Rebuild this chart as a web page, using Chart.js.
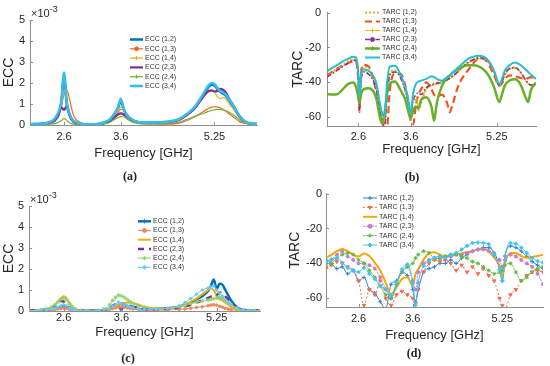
<!DOCTYPE html>
<html><head><meta charset="utf-8">
<script src="https://cdn.jsdelivr.net/npm/chart.js@4.4.1/dist/chart.umd.min.js"></script>
<style>
html,body{margin:0;padding:0;background:#fff;}
body{width:550px;height:366px;position:relative;overflow:hidden;}
.pane{position:absolute;}
.pane canvas{display:block;}
.plab{position:absolute;font:bold 12px "Liberation Serif","DejaVu Serif",serif;color:#222;transform:translate(-50%,-50%);white-space:nowrap;}
</style></head>
<body>
<div class="pane" style="left:0;top:0"><canvas id="cA" width="275" height="165"></canvas></div>
<div class="pane" style="left:275px;top:0"><canvas id="cB" width="275" height="165"></canvas></div>
<div class="pane" style="left:0;top:183px"><canvas id="cC" width="275" height="165"></canvas></div>
<div class="pane" style="left:275px;top:183px"><canvas id="cD" width="275" height="165"></canvas></div>
<div class="plab" style="left:130px;top:176px">(a)</div>
<div class="plab" style="left:412px;top:177px">(b)</div>
<div class="plab" style="left:128px;top:358px">(c)</div>
<div class="plab" style="left:414px;top:353px">(d)</div>
<script>
// ---------- tick labels / categories ----------
const freqTicks = [2.6, 3.6, 5.25];
const eccTicks = [0, 1, 2, 3, 4, 5];
const tarcTicks = [-60, -40, -20, 0];
const pairs = ['(1,2)', '(1,3)', '(1,4)', '(2,3)', '(2,4)', '(3,4)'];

// ---------- ECC data (x10^-3), panels (a) and (c) ----------
const freqEcc = [2.0,2.2,2.3,2.4,2.45,2.5,2.55,2.6,2.65,2.7,2.75,2.8,2.9,3.0,3.2,3.3,3.4,3.45,3.5,3.55,3.6,3.65,3.7,3.75,3.8,3.9,4.0,4.2,4.4,4.6,4.7,4.8,4.9,5.0,5.1,5.15,5.2,5.25,5.3,5.35,5.4,5.45,5.5,5.6,5.7,5.8,5.9,6.0];

const eccA12 = [0.04,0.06,0.1,0.2,0.33,0.55,1.0,2.3,0.95,0.45,0.22,0.13,0.05,0.03,0.05,0.11,0.23,0.37,0.55,0.8,1.15,0.75,0.47,0.33,0.23,0.14,0.11,0.11,0.14,0.24,0.38,0.57,0.8,1.2,1.62,1.82,1.92,1.88,1.72,1.58,1.5,1.4,1.2,0.8,0.38,0.14,0.07,0.05];
const eccA13 = [0.03,0.05,0.08,0.15,0.28,0.5,0.9,1.45,1.65,1.2,0.6,0.3,0.1,0.04,0.03,0.08,0.18,0.3,0.45,0.6,0.75,0.7,0.55,0.4,0.3,0.15,0.08,0.05,0.04,0.08,0.15,0.25,0.4,0.55,0.72,0.8,0.85,0.87,0.86,0.82,0.75,0.65,0.55,0.35,0.15,0.07,0.04,0.03];
const eccA14 = [0.03,0.05,0.09,0.18,0.3,0.55,1.0,1.6,1.2,0.6,0.3,0.15,0.05,0.03,0.04,0.1,0.22,0.35,0.5,0.7,0.85,0.7,0.5,0.35,0.25,0.14,0.1,0.1,0.13,0.22,0.35,0.55,0.8,1.15,1.5,1.6,1.62,1.55,1.35,1.25,1.3,1.25,1.05,0.7,0.32,0.12,0.06,0.04];
const eccA23 = [0.03,0.05,0.08,0.14,0.25,0.45,0.85,0.72,0.9,0.45,0.2,0.1,0.04,0.03,0.04,0.08,0.17,0.28,0.4,0.5,0.55,0.5,0.4,0.3,0.2,0.12,0.09,0.1,0.13,0.22,0.35,0.55,0.8,1.15,1.5,1.62,1.65,1.6,1.62,1.72,1.68,1.55,1.3,0.85,0.38,0.13,0.06,0.04];
const eccA24 = [0.01,0.02,0.03,0.05,0.08,0.13,0.2,0.3,0.22,0.1,0.05,0.03,0.01,0.01,0.02,0.05,0.12,0.2,0.28,0.35,0.4,0.38,0.3,0.22,0.15,0.08,0.05,0.05,0.06,0.12,0.2,0.3,0.4,0.5,0.6,0.65,0.7,0.72,0.74,0.74,0.72,0.68,0.62,0.45,0.22,0.08,0.03,0.02];
const eccA34 = [0.04,0.06,0.1,0.2,0.35,0.6,1.1,2.5,1.0,0.5,0.25,0.15,0.06,0.03,0.05,0.12,0.25,0.4,0.6,0.85,1.25,0.8,0.5,0.35,0.25,0.15,0.12,0.12,0.15,0.25,0.4,0.6,0.85,1.25,1.7,1.9,2.0,1.95,1.78,1.62,1.55,1.45,1.25,0.85,0.4,0.15,0.08,0.05];

const eccC12 = [0.02,0.04,0.06,0.1,0.13,0.17,0.2,0.25,0.2,0.13,0.07,0.04,0.02,0.01,0.02,0.05,0.1,0.2,0.3,0.25,0.05,0.3,0.2,0.25,0.15,0.1,0.08,0.1,0.13,0.2,0.3,0.4,0.55,0.7,0.95,1.2,1.5,1.05,1.3,1.25,1.0,0.75,0.5,0.18,0.06,0.03,0.02,0.02];
const eccC13 = [0.01,0.02,0.03,0.05,0.07,0.1,0.12,0.15,0.12,0.08,0.05,0.03,0.01,0.01,0.02,0.04,0.08,0.12,0.15,0.18,0.2,0.18,0.15,0.12,0.1,0.07,0.05,0.04,0.05,0.07,0.1,0.13,0.17,0.2,0.25,0.28,0.3,0.28,0.22,0.18,0.13,0.09,0.06,0.03,0.02,0.01,0.01,0.01];
const eccC14 = [0.02,0.05,0.1,0.2,0.3,0.45,0.6,0.7,0.6,0.4,0.2,0.1,0.03,0.01,0.02,0.05,0.12,0.2,0.25,0.3,0.35,0.38,0.4,0.4,0.38,0.3,0.2,0.12,0.12,0.2,0.3,0.45,0.6,0.8,1.0,1.1,1.0,0.7,0.55,0.5,0.4,0.3,0.2,0.08,0.03,0.02,0.02,0.02];
const eccC23 = [0.02,0.04,0.08,0.15,0.25,0.38,0.48,0.45,0.3,0.18,0.1,0.05,0.02,0.01,0.02,0.06,0.15,0.25,0.33,0.38,0.35,0.3,0.25,0.22,0.2,0.15,0.1,0.08,0.1,0.15,0.22,0.3,0.4,0.5,0.62,0.68,0.7,0.75,0.88,0.85,0.7,0.55,0.4,0.15,0.05,0.03,0.02,0.02];
const eccC24 = [0.02,0.05,0.1,0.2,0.3,0.42,0.55,0.62,0.55,0.35,0.2,0.1,0.03,0.01,0.03,0.1,0.3,0.5,0.65,0.75,0.72,0.65,0.55,0.45,0.35,0.25,0.18,0.12,0.12,0.18,0.25,0.35,0.42,0.48,0.52,0.55,0.58,0.62,0.65,0.6,0.5,0.4,0.3,0.12,0.04,0.02,0.02,0.02];
const eccC34 = [0.02,0.04,0.06,0.1,0.13,0.18,0.25,0.3,0.25,0.15,0.08,0.05,0.02,0.01,0.03,0.07,0.15,0.22,0.3,0.42,0.35,0.3,0.25,0.2,0.15,0.1,0.08,0.08,0.12,0.25,0.4,0.6,0.8,1.0,1.1,1.15,1.2,1.0,0.85,0.7,0.55,0.4,0.3,0.15,0.06,0.03,0.02,0.02];

// ---------- TARC data (dB), panel (b) ----------
const freqTarcB = [2.0,2.1,2.2,2.3,2.4,2.5,2.55,2.6,2.62,2.65,2.7,2.8,2.9,2.95,3.0,3.05,3.1,3.15,3.2,3.3,3.4,3.5,3.55,3.6,3.65,3.7,3.75,3.8,3.9,4.0,4.05,4.1,4.2,4.3,4.35,4.4,4.5,4.6,4.7,4.8,4.9,5.0,5.1,5.2,5.3,5.35,5.4,5.5,5.6,5.7,5.8,5.85,5.9,6.0];
const tarcB12 = [-36,-34,-32,-30,-28,-26.8,-26.8,-36,-54,-37,-31,-32,-38,-43,-52,-60,-64,-46,-35,-33,-36,-44,-50,-56,-50,-50,-56,-52,-44,-41,-40.5,-40,-39.5,-38.5,-37.5,-36.5,-34,-31,-28.5,-27,-26,-26,-28.5,-34,-42,-39.5,-35.5,-32,-31.5,-34,-38.5,-40.5,-41.5,-41];
const tarcB13 = [-36,-34,-32,-30.5,-29,-28,-28,-40,-57,-35,-30,-31,-40,-46,-56,-63,-67,-66,-45,-35,-35,-42,-50,-62,-64,-53,-47,-44,-40,-44,-47,-48,-47,-52,-57,-53,-43,-37,-33,-29,-26.5,-26.5,-30,-36,-42,-40.5,-38,-36,-36.5,-37.5,-38,-37.5,-37,-39];
const tarcB14 = [-36.5,-34.5,-32.5,-30.5,-28.5,-27,-27,-37,-55,-39,-33.5,-35,-39.5,-44,-53,-61,-65,-47,-35.5,-33.5,-36.5,-44.5,-50,-57,-49,-48,-55,-50,-44,-42,-41.5,-41,-40.5,-39,-38,-37,-34.5,-31.5,-29,-27.5,-26.5,-26.5,-29,-34.5,-42.5,-40,-36,-32.5,-32,-34.5,-39,-41,-42,-41.5];
const tarcB23 = [-37,-35,-33,-31,-29,-27.5,-27.5,-38,-56,-40,-34,-35.5,-40,-45,-54,-62,-66,-48,-36,-34,-37,-45,-51,-58,-50,-47,-46,-47,-43,-41.5,-41,-40.5,-40,-38.5,-37.5,-36.5,-34,-31,-28.5,-27,-26,-26,-28.5,-34,-42,-39.5,-35.5,-32,-31.5,-34,-38.5,-40.5,-41.5,-41];
const tarcB24 = [-46.7,-47,-46.7,-44,-41,-40,-42,-48.5,-52,-46.7,-44,-43.3,-45.7,-50,-58,-63.5,-58,-46.7,-41,-39.5,-44,-50,-56,-60.7,-56,-53.8,-55,-50,-48.5,-54,-62,-52,-42,-37.3,-36,-34.5,-32.7,-31,-30.2,-30.2,-30.8,-32.7,-36.4,-43,-51.3,-46.7,-42,-38.8,-38.2,-41,-48.5,-51.3,-44.8,-40];
const tarcB34 = [-33.6,-31.7,-30,-28,-26.5,-25.3,-25.5,-35,-48,-36,-32.5,-33.5,-37,-41,-50,-57,-60,-40,-31,-30.5,-35,-43,-49,-58,-46,-41,-39.5,-39,-38,-36.5,-37,-38,-39,-37,-36,-34.5,-31.7,-29,-26.5,-25.3,-24.8,-25.3,-28,-33.5,-41,-38,-33.5,-30,-28.6,-30,-32.7,-34,-35.5,-38];

// ---------- TARC data (dB), panel (d) ----------
const freqTarcD = [2.0,2.1,2.2,2.3,2.4,2.5,2.6,2.7,2.8,2.9,3.0,3.1,3.2,3.3,3.4,3.5,3.6,3.65,3.7,3.8,3.9,4.0,4.1,4.2,4.3,4.4,4.5,4.6,4.7,4.8,4.9,5.0,5.1,5.2,5.25,5.3,5.4,5.5,5.6,5.7,5.8,5.9,6.0];
const tarcD12 = [-38,-40,-43,-42,-46,-44,-50,-48,-55,-57,-62,-66,-52,-50,-45,-47,-55,-62,-55,-45,-43,-42,-40,-40,-38,-40,-37,-35,-33,-32,-31,-31,-34,-42,-50,-36,-30,-31,-33,-36,-39,-41,-43];
const tarcD13 = [-43,-41,-39,-40,-42,-44,-50,-64,-55,-58,-50,-60,-64,-58,-56,-58,-60,-63,-55,-45,-40,-38,-39,-38,-40,-44,-41,-45,-42,-46,-43,-47,-50,-60,-64,-66,-58,-55,-50,-47,-45,-44,-45];
const tarcD14 = [-36.8,-35,-33,-31.7,-33,-35,-36,-34.3,-35.8,-39.6,-44,-51,-57.5,-53.8,-49,-48,-52.8,-46,-43.4,-37.7,-34.3,-33.6,-35,-36.2,-35.8,-35,-34.3,-33.6,-33,-32,-31.7,-33,-36.8,-41.5,-48,-39.6,-34,-34,-35.8,-36.8,-36.4,-35.8,-35];
const tarcD23 = [-40,-38,-35,-33,-36,-38,-40,-40,-41,-43,-48,-55,-60,-52,-45,-42,-50,-55,-45,-40,-38,-37,-37,-36,-36,-35,-35,-34,-33,-32,-32,-33,-35,-38,-42,-38,-35,-36,-38,-40,-42,-46,-52];
const tarcD24 = [-42,-40,-37,-35,-34,-35,-38,-40,-44,-48,-53,-58,-60,-52,-45,-42,-40,-37,-35,-33,-34,-37,-37,-36,-35,-35,-36,-37,-39,-40,-42,-44,-46,-45,-44,-41,-40,-45,-50,-48,-45,-43,-42];
const tarcD34 = [-38.7,-37.7,-37,-39.6,-42.5,-44,-45,-42.5,-46,-49,-52.8,-54.7,-58.5,-51,-43.4,-40.6,-51,-64,-51,-41.5,-38.7,-36.8,-35.8,-36.8,-35,-34,-32,-30,-28.3,-28,-28.3,-29,-35,-43.4,-50,-35.8,-28.3,-28.7,-31,-34,-36.8,-38.7,-39.6];

// ---------- drawing ----------
const FONT = '"Liberation Sans", Arial, Helvetica, sans-serif';
const AX = '#8f8f8f';
const TK = '#262626';

function toPoints(freq, vals) { return freq.map((f, i) => ({ x: f, y: vals[i] })); }

function makeSets(prefix, freq, valueArrays, styles) {
  return valueArrays.map((vals, i) => {
    const st = styles[i];
    return Object.assign({
      label: prefix + ' ' + pairs[i],
      data: toPoints(freq, vals),
      order: valueArrays.length - i,
      fill: false,
      pointRadius: 0,
      pointBorderWidth: 1,
      cubicInterpolationMode: 'monotone'
    }, st, {
      backgroundColor: st.borderColor,
      pointBackgroundColor: st.borderColor,
      pointBorderColor: st.borderColor
    });
  });
}

const decorPlugin = {
  id: 'decor',
  afterDraw(chart, args, o) {
    const ctx = chart.ctx;
    const { left, right, top, bottom } = chart.chartArea;
    const xs = chart.scales.x, ys = chart.scales.y;
    ctx.save();
    ctx.strokeStyle = AX; ctx.lineWidth = 1; ctx.setLineDash([]);
    ctx.beginPath();
    xs.ticks.forEach(t => { const px = Math.round(xs.getPixelForValue(t.value)) + 0.5; ctx.moveTo(px, bottom); ctx.lineTo(px, bottom - 3); });
    ys.ticks.forEach(t => { const py = Math.round(ys.getPixelForValue(t.value)) + 0.5; ctx.moveTo(left, py); ctx.lineTo(left + 3, py); });
    ctx.stroke();
    if (o.exponent) {
      ctx.fillStyle = TK; ctx.textAlign = 'left'; ctx.textBaseline = 'alphabetic';
      ctx.font = '11px ' + FONT;
      const base = '\u00d710';
      ctx.fillText(base, left + 1, top - 3);
      const w = ctx.measureText(base).width;
      ctx.font = '9px ' + FONT;
      ctx.fillText(o.exponent, left + 1 + w, top - 8);
    }
    chart.data.datasets.forEach((ds, i) => {
      const y = o.y + i * o.dy;
      ctx.strokeStyle = ds.borderColor;
      ctx.lineWidth = ds.borderWidth;
      ctx.setLineDash(ds.borderDash || []);
      ctx.beginPath(); ctx.moveTo(o.x, y); ctx.lineTo(o.x + o.len, y); ctx.stroke();
      ctx.setLineDash([]);
      if (ds.mk) {
        ctx.fillStyle = ds.borderColor; ctx.strokeStyle = ds.borderColor; ctx.lineWidth = 1;
        Chart.helpers.drawPoint(ctx, { pointStyle: ds.mk, radius: 2, rotation: ds.pointRotation || 0, borderWidth: 1 }, o.x + o.len / 2, y);
      }
      ctx.fillStyle = '#333'; ctx.font = '7px ' + FONT;
      ctx.textAlign = 'left'; ctx.textBaseline = 'middle';
      ctx.fillText(ds.label, o.x + o.len + 2, y);
    });
    ctx.restore();
  }
};

function makeChart(id, c) {
  return new Chart(document.getElementById(id), {
    type: 'line',
    data: { datasets: c.datasets },
    options: {
      responsive: false, animation: false, devicePixelRatio: 1,
      layout: { padding: { top: c.padTop, right: c.padRight, left: 0, bottom: 0 } },
      plugins: { legend: { display: false }, tooltip: { enabled: false }, decor: c.decor },
      scales: {
        x: {
          type: 'linear', min: 2, max: 6,
          border: { display: true, color: AX, width: 1 },
          grid: { display: false, drawTicks: false },
          afterBuildTicks: s => { s.ticks = freqTicks.map(v => ({ value: v })); },
          afterFit: s => { s.height = c.xH; },
          ticks: { autoSkip: false, maxRotation: 0, padding: c.xTickPad, color: TK, font: { size: 11, family: FONT }, callback: v => String(v) },
          title: { display: true, text: 'Frequency [GHz]', color: TK, font: { size: 13, family: FONT }, padding: { top: 0, bottom: c.xTitlePad } }
        },
        y: {
          type: 'linear', min: c.yMin, max: c.yMax,
          border: { display: true, color: AX, width: 1 },
          grid: { display: false, drawTicks: false },
          afterBuildTicks: s => { s.ticks = c.yTicks.map(v => ({ value: v })); },
          afterFit: s => { s.width = c.yW; },
          ticks: { autoSkip: false, padding: c.yTickPad, color: TK, font: { size: 11, family: FONT }, callback: v => String(v) },
          title: { display: true, text: c.yTitle, color: TK, font: { size: 14, family: FONT }, padding: { top: c.yTitlePad, bottom: 0 } }
        }
      }
    },
    plugins: [decorPlugin]
  });
}

// (a)
makeChart('cA', {
  datasets: makeSets('ECC', freqEcc, [eccA12, eccA13, eccA14, eccA23, eccA24, eccA34], [
    { borderColor: '#0072BD', borderWidth: 2.5 },
    { borderColor: '#EE6A25', borderWidth: 1.2, mk: 'circle' },
    { borderColor: '#EDB120', borderWidth: 1.2, mk: 'cross' },
    { borderColor: '#7E2F8E', borderWidth: 2.2 },
    { borderColor: '#77AC30', borderWidth: 1.2, mk: 'cross' },
    { borderColor: '#33BEEE', borderWidth: 2.5, mk: 'crossRot' }
  ]),
  padTop: 20, padRight: 18, xH: 40, yW: 30, xTickPad: 5, xTitlePad: 4, yTickPad: 5, yTitlePad: 1,
  yMin: 0, yMax: 5, yTicks: eccTicks, yTitle: 'ECC',
  decor: { x: 130, y: 39.5, dy: 9.3, len: 13, exponent: '-3' }
});

// (b)
makeChart('cB', {
  datasets: makeSets('TARC', freqTarcB, [tarcB12, tarcB13, tarcB14, tarcB23, tarcB24, tarcB34], [
    { borderColor: '#EDB120', borderWidth: 2, borderDash: [2, 2] },
    { borderColor: '#F4511E', borderWidth: 2.2, borderDash: [7, 4] },
    { borderColor: '#F0B41C', borderWidth: 1, mk: 'cross' },
    { borderColor: '#8B2E8E', borderWidth: 1.5, borderDash: [5, 2, 1.5, 2], mk: 'circle' },
    { borderColor: '#6AAF2A', borderWidth: 2.5, mk: 'star' },
    { borderColor: '#22C0D2', borderWidth: 2 }
  ]),
  padTop: 10, padRight: 14, xH: 39, yW: 52, xTickPad: 4, xTitlePad: 8, yTickPad: 6, yTitlePad: 15,
  yMin: -65, yMax: 0, yTicks: tarcTicks, yTitle: 'TARC',
  decor: { x: 90, y: 12.5, dy: 9, len: 15 }
});

// (c)
makeChart('cC', {
  datasets: makeSets('ECC', freqEcc, [eccC12, eccC13, eccC14, eccC23, eccC24, eccC34], [
    { borderColor: '#0072BD', borderWidth: 2.5, mk: 'cross' },
    { borderColor: '#F5845C', borderWidth: 1, mk: 'circle', pointRadius: 1.3, pointStyle: 'circle' },
    { borderColor: '#F2AE10', borderWidth: 2 },
    { borderColor: '#7E2F8E', borderWidth: 2.5, borderDash: [6, 5] },
    { borderColor: '#8CD46A', borderWidth: 1, mk: 'star', pointRadius: 2, pointStyle: 'star' },
    { borderColor: '#62CDF5', borderWidth: 1, mk: 'rectRot', pointRadius: 1.5, pointStyle: 'rectRot' }
  ]),
  padTop: 23, padRight: 15, xH: 37, yW: 29, xTickPad: 0, xTitlePad: 8, yTickPad: 5, yTitlePad: 1,
  yMin: 0, yMax: 5, yTicks: eccTicks, yTitle: 'ECC',
  decor: { x: 138, y: 38.3, dy: 9.2, len: 13, exponent: '-3' }
});

// (d)
makeChart('cD', {
  datasets: makeSets('TARC', freqTarcD, [tarcD12, tarcD13, tarcD14, tarcD23, tarcD24, tarcD34], [
    { borderColor: '#2A7FD0', borderWidth: 1, mk: 'cross', pointRadius: 2, pointStyle: 'cross' },
    { borderColor: '#F46C4C', borderWidth: 1, borderDash: [2, 2], mk: 'triangle', pointRadius: 2, pointStyle: 'triangle', pointRotation: 180, pointBackgroundColor: '#fff' },
    { borderColor: '#F5A800', borderWidth: 2 },
    { borderColor: '#C47BD4', borderWidth: 1, borderDash: [2, 1], mk: 'circle', pointRadius: 1.5, pointStyle: 'circle' },
    { borderColor: '#5DBB3C', borderWidth: 1, borderDash: [2, 1], mk: 'star', pointRadius: 2, pointStyle: 'star' },
    { borderColor: '#3EC3F5', borderWidth: 1, mk: 'rectRot', pointRadius: 1.8, pointStyle: 'rectRot' }
  ]),
  padTop: 10, padRight: 7, xH: 41, yW: 51, xTickPad: 5, xTitlePad: 5, yTickPad: 4, yTitlePad: 12,
  yMin: -65, yMax: 0, yTicks: tarcTicks, yTitle: 'TARC',
  decor: { x: 88, y: 15, dy: 9.4, len: 14 }
});
</script>
</body></html>
